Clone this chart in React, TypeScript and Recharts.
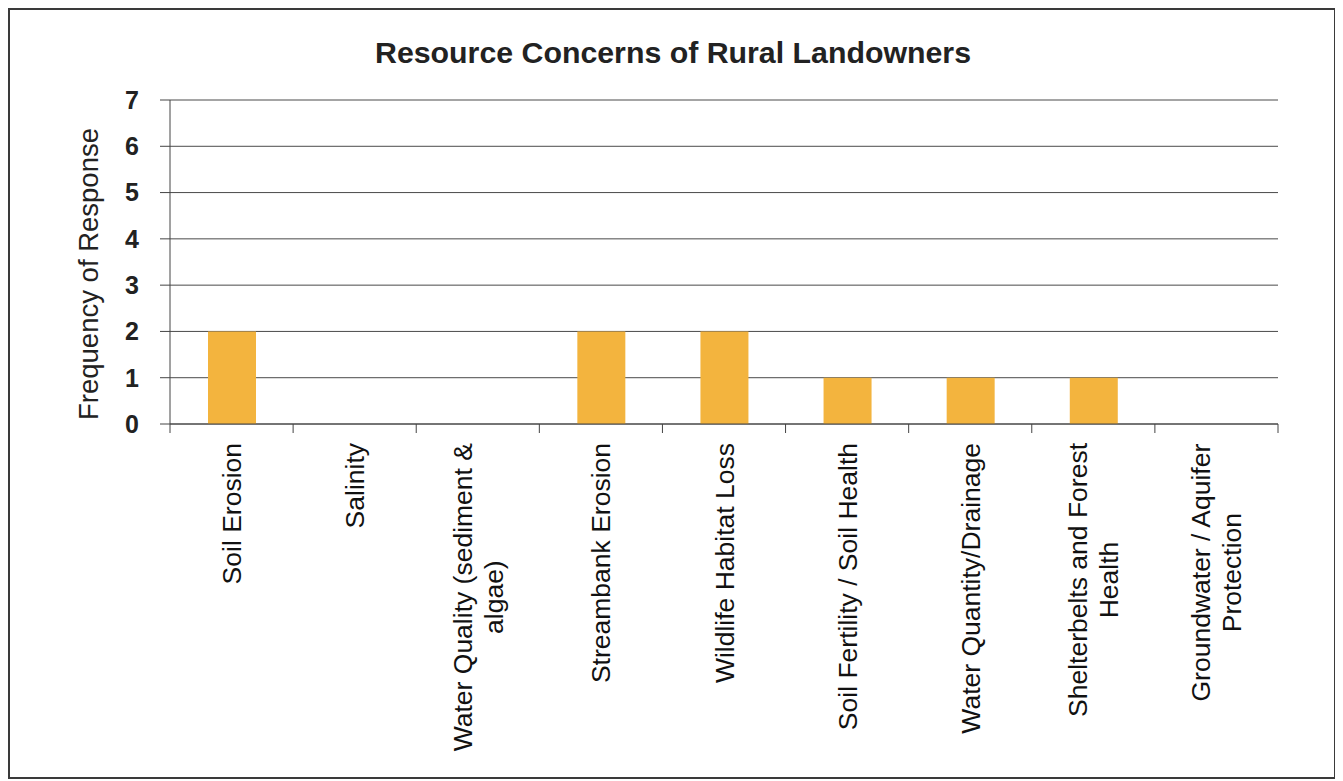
import React from 'react';
import { BarChart, Bar, XAxis, YAxis, CartesianGrid } from 'recharts';

const TITLE = 'Resource Concerns of Rural Landowners';
const Y_TITLE = 'Frequency of Response';
const categories = [
  'Soil Erosion',
  'Salinity',
  'Water Quality (sediment & algae)',
  'Streambank Erosion',
  'Wildlife Habitat Loss',
  'Soil Fertility / Soil Health',
  'Water Quantity/Drainage',
  'Shelterbelts and Forest Health',
  'Groundwater / Aquifer Protection',
];
const labelLines: string[][] = [
  ['Soil Erosion'],
  ['Salinity'],
  ['Water Quality (sediment &', 'algae)'],
  ['Streambank Erosion'],
  ['Wildlife Habitat Loss'],
  ['Soil Fertility / Soil Health'],
  ['Water Quantity/Drainage'],
  ['Shelterbelts and Forest', 'Health'],
  ['Groundwater / Aquifer', 'Protection'],
];
const values = [2, 0, 0, 2, 2, 1, 1, 1, 0];
const yTicks = [0, 1, 2, 3, 4, 5, 6, 7];

const data = categories.map((name, i) => ({ name, value: values[i] }));

const FONT = '"Liberation Sans", Arial, sans-serif';
const X_FONT_SIZE = 26.5;
const LINE_H = 31;
const AXIS_COLOR = '#444';
const BAR_COLOR = '#F3B43E';

let ctx: CanvasRenderingContext2D | null = null;
const measure = (s: string, size: number) => {
  try {
    if (!ctx) ctx = document.createElement('canvas').getContext('2d');
    if (ctx) {
      ctx.font = `${size}px ${FONT}`;
      return ctx.measureText(s).width;
    }
  } catch (e) {}
  return s.length * size * 0.5;
};

const XTick = (props: any) => {
  const { x, y, index, width, visibleTicksCount } = props;
  const n = visibleTicksCount || categories.length;
  const band = (width || 1108) / n;
  const lines = labelLines[index] || [String(props.payload?.value)];
  const maxW = Math.max(...lines.map((l) => measure(l, X_FONT_SIZE)));
  const capH = 0.716 * X_FONT_SIZE;
  const left = x - band / 2;
  const right = x + band / 2;
  return (
    <g>
      <line x1={left} x2={left} y1={y} y2={y + 9} stroke={AXIS_COLOR} strokeWidth={1} />
      {index === n - 1 && (
        <line x1={right} x2={right} y1={y} y2={y + 9} stroke={AXIS_COLOR} strokeWidth={1} />
      )}
      <g transform={`translate(${x},${y + 19}) rotate(-90)`}>
        {lines.map((l, i) => (
          <text
            key={i}
            x={-maxW / 2}
            y={capH / 2 + (i - (lines.length - 1) / 2) * LINE_H}
            textAnchor="middle"
            fontFamily={FONT}
            fontSize={X_FONT_SIZE}
            fill="#111"
          >
            {l}
          </text>
        ))}
      </g>
    </g>
  );
};

const YLabel = (props: any) => {
  const vb = props.viewBox || { x: 0, y: 90, width: 160, height: 324 };
  const cx = 88;
  const cy = vb.y + vb.height / 2 + 12;
  return (
    <text
      transform={`translate(${cx},${cy}) rotate(-90)`}
      textAnchor="middle"
      fontFamily={FONT}
      fontSize={27.5}
      fill="#222"
    >
      {Y_TITLE}
    </text>
  );
};

export default function App() {
  const W = 1324;
  const H = 767;
  return (
    <div
      style={{
        position: 'relative',
        width: W + 4,
        height: H + 4,
        boxSizing: 'border-box',
        border: '2px solid #3a3a3a',
        background: '#fff',
      }}
    >
      <svg
        width={W}
        height={80}
        style={{ position: 'absolute', left: 0, top: 0, pointerEvents: 'none' }}
      >
        <text
          x={663}
          y={53}
          textAnchor="middle"
          fontFamily={FONT}
          fontWeight="bold"
          fontSize={30.3}
          fill="#222"
        >
          {TITLE}
        </text>
      </svg>
      <BarChart
        width={W}
        height={H}
        data={data}
        margin={{ top: 90, right: 56, left: 0, bottom: 0 }}
      >
        <CartesianGrid vertical={false} stroke="#4a4a4a" strokeWidth={1} />
        <XAxis
          dataKey="name"
          type="category"
          height={353}
          interval={0}
          tickLine={false}
          tickSize={0}
          tickMargin={0}
          axisLine={{ stroke: AXIS_COLOR, strokeWidth: 1 }}
          tick={<XTick />}
        />
        <YAxis
          width={160}
          domain={[0, 7]}
          ticks={yTicks}
          interval={0}
          tickSize={10}
          tickMargin={21}
          axisLine={{ stroke: AXIS_COLOR, strokeWidth: 1 }}
          tickLine={{ stroke: AXIS_COLOR, strokeWidth: 1 }}
          tick={{ fontFamily: FONT, fontSize: 25, fontWeight: 'bold', fill: '#222' }}
          label={<YLabel />}
        />
        <Bar dataKey="value" fill={BAR_COLOR} barSize={48} isAnimationActive={false} />
      </BarChart>
    </div>
  );
}
